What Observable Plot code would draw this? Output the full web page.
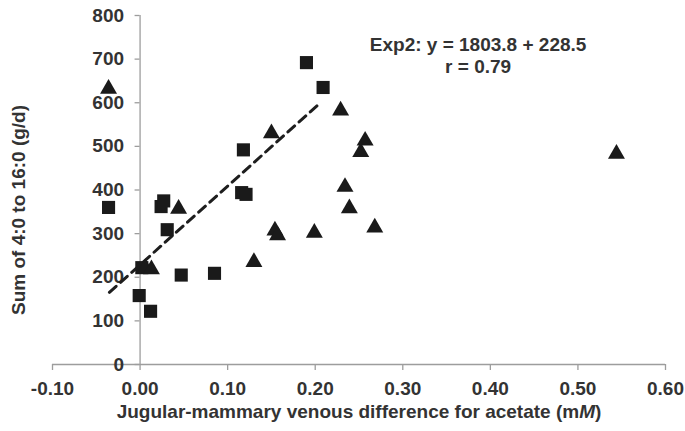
<!DOCTYPE html>
<html><head><meta charset="utf-8">
<script src="https://cdn.jsdelivr.net/npm/d3@7"></script>
<script src="https://cdn.jsdelivr.net/npm/@observablehq/plot@0.6"></script>
<style>
html,body{margin:0;padding:0;background:#fff;}
</style></head><body><div id="chart"></div>
<script>
// ---- data ----
const xTicks = [-0.1, 0, 0.1, 0.2, 0.3, 0.4, 0.5, 0.6];
const xTickLabels = ["-0.10", "0.00", "0.10", "0.20", "0.30", "0.40", "0.50", "0.60"];
const yTicks = [0, 100, 200, 300, 400, 500, 600, 700, 800];

const squareX = [-0.036, -0.001, 0.002, 0.012, 0.024, 0.027, 0.031, 0.047, 0.085, 0.116, 0.121, 0.118, 0.190, 0.209];
const squareY = [360, 158, 222, 122, 362, 375, 309, 205, 209, 394, 390, 492, 692, 635];

const triangleX = [-0.036, 0.006, 0.013, 0.044, 0.130, 0.150, 0.154, 0.157, 0.199, 0.229, 0.234, 0.239, 0.252, 0.257, 0.268, 0.544];
const triangleY = [632, 221, 218, 357, 235, 530, 307, 296, 302, 582, 407, 358, 487, 513, 314, 483];

const fitIntercept = 228.5;
const fitSlope = 1803.8;
const fitXRange = [-0.035, 0.205];

const annotationText = "Exp2: y = 1803.8 + 228.5\nr = 0.79";
const annotationX = 0.386;
const annotationY = 710;

const xLabel = "Jugular-mammary venous difference for acetate (mM)";
const yLabel = "Sum of 4:0 to 16:0 (g/d)";

// ---- build ----
const squares = squareX.map((x, i) => ({x, y: squareY[i]}));
const triangles = triangleX.map((x, i) => ({x, y: triangleY[i]}));
const fit = fitXRange.map(x => ({x, y: fitIntercept + fitSlope * x}));

const W = 685, H = 431, mL = 52, mR = 20, mT = 15, mB = 67;
const xDomain = [-0.1, 0.6];
const xs = Plot.scale({x: {domain: xDomain, range: [mL, W - mR]}});
const yAxisShift = xs.apply(0) - xs.apply(xDomain[0]);

const axisGray = "#9d9d9d";
const textColor = "#333";
const fs = 19;

const chart = Plot.plot({
  width: W, height: H,
  marginLeft: mL, marginRight: mR, marginTop: mT, marginBottom: mB,
  style: {fontFamily: "'Liberation Sans', Arial, sans-serif", fontSize: fs + "px", fontWeight: "bold", color: textColor, background: "#fff", overflow: "visible"},
  x: {domain: xDomain},
  y: {domain: [0, 800]},
  marks: [
    Plot.ruleY([0], {x1: xDomain[0], x2: xDomain[1], stroke: axisGray, strokeWidth: 1.3}),
    Plot.ruleX([0], {y1: 0, y2: 800, stroke: axisGray, strokeWidth: 1.3}),
    Plot.axisX(xTicks, {tickSize: 6, tickPadding: 11, stroke: axisGray, fill: textColor, strokeWidth: 1.3,
      tickFormat: (d) => xTickLabels[xTicks.indexOf(d)], label: null}),
    Plot.axisY(yTicks, {tickSize: 5, tickPadding: 11, dx: yAxisShift, stroke: axisGray, fill: textColor, strokeWidth: 1.3, label: null}),
    Plot.line(fit, {x: "x", y: "y", stroke: "#1e1e1e", strokeWidth: 3, strokeDasharray: "9,6"}),
    Plot.dot(squares, {x: "x", y: "y", symbol: "square", r: 7.4, fill: "#1a1a1a", stroke: "none"}),
    Plot.dot(triangles, {x: "x", y: "y", symbol: "triangle", r: 6.3, fill: "#1a1a1a", stroke: "none"}),
    Plot.text([annotationText], {x: annotationX, y: annotationY, textAnchor: "middle", lineHeight: 1.2, fill: textColor, fontSize: fs}),
    Plot.text([xLabel], {frameAnchor: "bottom", textAnchor: "middle", dy: 53, fill: textColor, fontSize: fs}),
    Plot.text([yLabel], {frameAnchor: "left", textAnchor: "middle", rotate: -90, dx: -34, dy: 20, fill: textColor, fontSize: fs})
  ]
});
document.getElementById("chart").appendChild(chart);

// italic M in the unit
chart.querySelectorAll("text").forEach(t => {
  if (t.textContent === xLabel) {
    const i = xLabel.lastIndexOf("M");
    t.textContent = xLabel.slice(0, i);
    const ts = document.createElementNS("http://www.w3.org/2000/svg", "tspan");
    ts.setAttribute("font-style", "italic");
    ts.textContent = "M";
    t.appendChild(ts);
    t.appendChild(document.createTextNode(xLabel.slice(i + 1)));
  }
});
</script>
</body></html>
